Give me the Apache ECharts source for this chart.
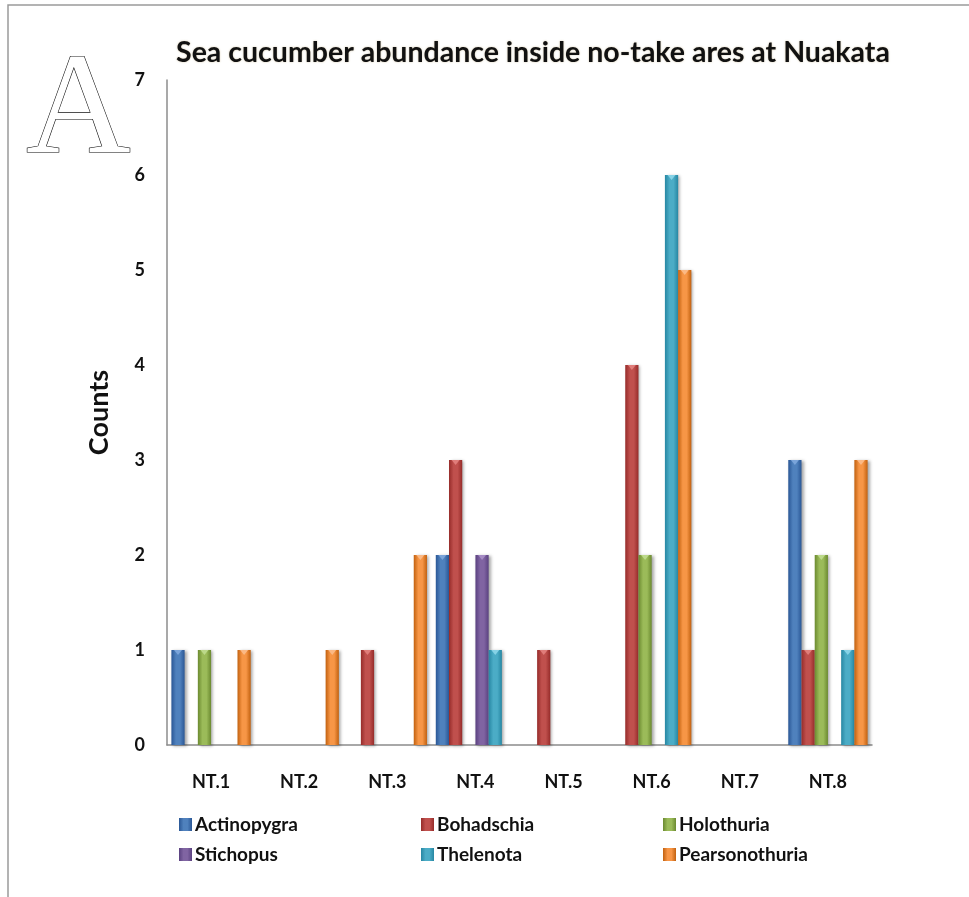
<!DOCTYPE html>
<html>
<head>
<meta charset="utf-8">
<script src="https://cdn.jsdelivr.net/npm/echarts@6/dist/echarts.min.js"></script>
<style>
html,body{margin:0;padding:0;background:#fff;}
#chart{width:969px;height:897px;}
</style>
</head>
<body>
<div id="chart"></div>
<script>
const categories = ['NT.1','NT.2','NT.3','NT.4','NT.5','NT.6','NT.7','NT.8'];
const actinopygra    = [1,0,0,2,0,0,0,3];
const bohadschia     = [0,0,1,3,1,4,0,1];
const holothuria     = [1,0,0,0,0,2,0,2];
const stichopus      = [0,0,0,2,0,0,0,0];
const thelenota      = [0,0,0,1,0,6,0,1];
const pearsonothuria = [1,1,2,0,0,5,0,3];
const yTicks = [0,1,2,3,4,5,6,7];

const speciesNames = ['Actinopygra','Bohadschia','Holothuria','Stichopus','Thelenota','Pearsonothuria'];
const speciesData = [actinopygra,bohadschia,holothuria,stichopus,thelenota,pearsonothuria];
const palette = [
  {dark:'#2a5796', mid:'#4f81bd', light:'#7aa4da'},
  {dark:'#962c2a', mid:'#c0504d', light:'#e07d7a'},
  {dark:'#6b8a30', mid:'#9bbb59', light:'#bcd98a'},
  {dark:'#5a4180', mid:'#8064a2', light:'#a58bc4'},
  {dark:'#2787a3', mid:'#4bacc6', light:'#86d2e6'},
  {dark:'#c2610f', mid:'#f79646', light:'#fbb985'}
];
const FONT = 'Lato, "Open Sans", sans-serif';

function grad(p){
  return new echarts.graphic.LinearGradient(0,0,1,0,[
    {offset:0,color:p.dark},{offset:0.35,color:p.mid},{offset:0.65,color:p.mid},{offset:1,color:p.dark}
  ]);
}

const series = [];
speciesNames.forEach((n,i)=>{
  series.push({
    name:n, type:'bar', data:speciesData[i],
    barGap:'0%', barCategoryGap:'10%',
    itemStyle:{color:grad(palette[i]), shadowBlur:3, shadowColor:'rgba(0,0,0,0.35)', shadowOffsetX:2, shadowOffsetY:1},
    emphasis:{disabled:true}
  });
});
speciesNames.forEach((n,i)=>{
  series.push({
    name:n+'_top', type:'pictorialBar',
    data:speciesData[i].map(v=>v>0?v:'-'),
    barGap:'0%', barCategoryGap:'10%',
    symbol:'path://M0,0 L10,0 L5,6 Z',
    symbolPosition:'end', symbolSize:['60%',5], symbolOffset:[0,0],
    itemStyle:{color:palette[i].light},
    z:3, silent:true
  });
});

const legendStyle = {orient:'vertical', itemGap:11, itemWidth:13, itemHeight:13, icon:'rect',
  selectedMode:false, textStyle:{fontFamily:FONT, fontWeight:'bold', fontSize:19, color:'#111', padding:[0,0,0,-2]}};

const chart = echarts.init(document.getElementById('chart'));
chart.setOption({
  animation:false,
  backgroundColor:'#fff',
  title:{
    text:'Sea cucumber abundance inside no-take ares at Nuakata',
    left:528, top:33, textAlign:'center',
    textStyle:{fontFamily:FONT, fontWeight:'bold', fontSize:28.5, color:'#111',
      textShadowColor:'rgba(120,80,0,0.35)', textShadowBlur:2}
  },
  grid:{left:167, right:97, top:80, bottom:152},
  xAxis:{
    type:'category', data:categories,
    axisLine:{lineStyle:{color:'#8c8c8c', width:1.5}},
    axisTick:{show:false},
    axisLabel:{margin:28, fontFamily:FONT, fontWeight:'bold', fontSize:18, color:'#111'}
  },
  yAxis:{
    type:'value', min:0, max:7, interval:1,
    name:'Counts', nameLocation:'middle', nameGap:54, nameRotate:90,
    nameTextStyle:{fontFamily:FONT, fontSize:27, fontWeight:'bold', color:'#111'},
    axisLine:{show:true, lineStyle:{color:'#8c8c8c', width:1.5}},
    axisTick:{show:false},
    splitLine:{show:false},
    axisLabel:{margin:22, fontFamily:FONT, fontWeight:'bold', fontSize:18, color:'#111',
      formatter:v=>yTicks.includes(v)?String(v):''}
  },
  legend:[
    Object.assign({data:['Actinopygra','Stichopus'], left:174, top:810}, legendStyle),
    Object.assign({data:['Bohadschia','Thelenota'], left:416, top:810}, legendStyle),
    Object.assign({data:['Holothuria','Pearsonothuria'], left:658, top:810}, legendStyle)
  ],
  graphic:[
    {type:'rect', shape:{x:8,y:5,width:990,height:920}, style:{fill:'none', stroke:'#9a9a9a', lineWidth:1.5}, silent:true},
    {type:'text', x:26, y:114, style:{text:'A', font:'145px "Liberation Serif", "DejaVu Serif", serif',
      fill:'#fff', stroke:'#000', lineWidth:1.2, verticalAlign:'middle'}, silent:true}
  ],
  series:series
});
</script>
</body>
</html>
